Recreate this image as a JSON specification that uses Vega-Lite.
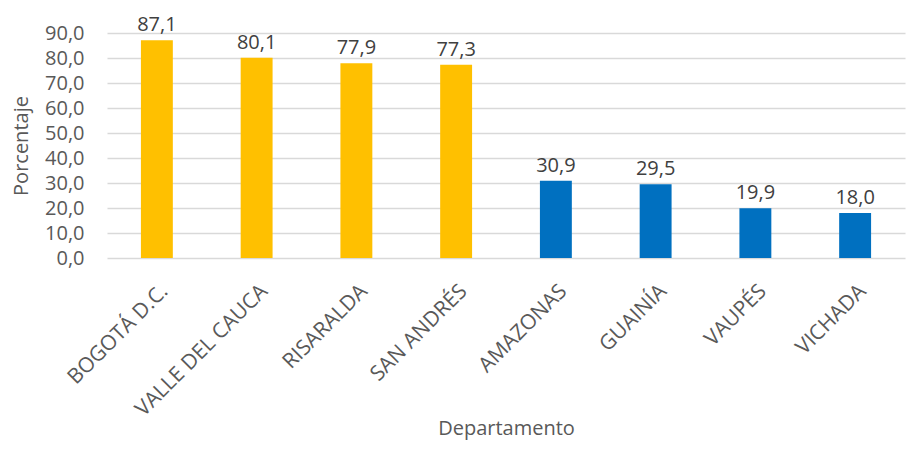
{
  "$schema": "https://vega.github.io/schema/vega-lite/v6.json",
  "width": 798,
  "height": 225,
  "autosize": "none",
  "padding": {"left": 107, "top": 33, "right": 5, "bottom": 200},
  "background": "white",
  "config": {
    "view": {"stroke": null},
    "font": "Open Sans",
    "locale": {"number": {"decimal": ",", "thousands": ".", "grouping": [3], "currency": ["$", ""]}}
  },
  "data": {
    "values": [
      {"departamento": "BOGOTÁ D.C.", "porcentaje": 87.1, "grupo": "alto"},
      {"departamento": "VALLE DEL CAUCA", "porcentaje": 80.1, "grupo": "alto"},
      {"departamento": "RISARALDA", "porcentaje": 77.9, "grupo": "alto"},
      {"departamento": "SAN ANDRÉS", "porcentaje": 77.3, "grupo": "alto"},
      {"departamento": "AMAZONAS", "porcentaje": 30.9, "grupo": "bajo"},
      {"departamento": "GUAINÍA", "porcentaje": 29.5, "grupo": "bajo"},
      {"departamento": "VAUPÉS", "porcentaje": 19.9, "grupo": "bajo"},
      {"departamento": "VICHADA", "porcentaje": 18.0, "grupo": "bajo"}
    ]
  },
  "encoding": {
    "x": {
      "field": "departamento",
      "type": "nominal",
      "sort": null,
      "scale": {"paddingInner": 0.68, "paddingOuter": 0.34},
      "axis": {
        "title": "Departamento",
        "titleFontSize": 20,
        "titleFontWeight": "normal",
        "titleColor": "#595959",
        "titleY": 170,
        "titleBaseline": "middle",
        "labelAngle": -45,
        "labelFontSize": 21,
        "labelColor": "#595959",
        "labelPadding": 22,
        "domain": false,
        "ticks": false,
        "grid": false
      }
    },
    "y": {
      "field": "porcentaje",
      "type": "quantitative",
      "scale": {"domain": [0, 90]},
      "axis": {
        "title": "Porcentaje",
        "titleFontSize": 20,
        "titleFontWeight": "normal",
        "titleColor": "#595959",
        "titleX": -76,
        "values": [0, 10, 20, 30, 40, 50, 60, 70, 80, 90],
        "format": ".1f",
        "labelFontSize": 20,
        "labelColor": "#595959",
        "labelPadding": 23,
        "domain": false,
        "ticks": false,
        "grid": true,
        "gridColor": "#d9d9d9",
        "gridWidth": 1.5
      }
    }
  },
  "layer": [
    {
      "mark": {"type": "bar"},
      "encoding": {
        "color": {
          "field": "grupo",
          "type": "nominal",
          "scale": {"domain": ["alto", "bajo"], "range": ["#FFC000", "#0070C0"]},
          "legend": null
        }
      }
    },
    {
      "mark": {"type": "text", "dy": -15, "fontSize": 20, "color": "#404040"},
      "encoding": {
        "text": {"field": "porcentaje", "type": "quantitative", "format": ".1f"}
      }
    }
  ]
}
